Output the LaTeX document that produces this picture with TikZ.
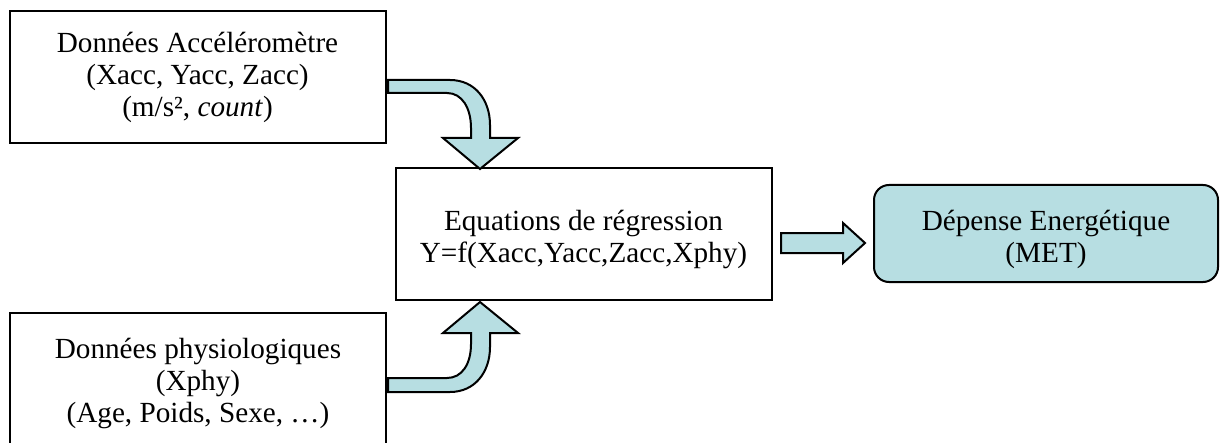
\documentclass[tikz,border=0pt]{standalone}
\usepackage{fontspec}
\setmainfont{Liberation Serif}
\definecolor{flowblue}{RGB}{183,222,226}

\begin{document}
\begin{tikzpicture}[x=0.5pt, y=-0.5pt, box/.style={draw, line width=1pt, align=center, inner sep=0pt, minimum width=188pt, minimum height=66pt, font=\fontsize{14.6}{16}\selectfont}, result/.style={box, fill=flowblue, rounded corners=7.5pt, minimum width=172pt, minimum height=48.5pt}, lastline/.style={text height=#1, text depth=0pt}, bent/.style={draw, line width=1pt, fill=flowblue, line join=miter}]
\clip (0,0) rectangle (1224,443);
\node[box, lastline=40pt] (acc) at (197.5,77) {Données Accéléromètre\\(Xacc, Yacc, Zacc)\\(m/s², \textit{count})};
\node[box, lastline=28pt] (eq) at (583.5,234) {Equations de régression\\Y=f(Xacc,Yacc,Zacc,Xphy)};
\node[box, lastline=43pt] (phy) at (198,379) {Données physiologiques\\(Xphy)\\(Age, Poids, Sexe, …)};
\node[result, lastline=28.5pt] (met) at (1046,233.5) {Dépense Energétique\\(MET)};
% bent arrows into the regression box
\draw[bent] (388,80) -- (450,80) .. controls (475,80) and (490,100) .. (490,125) -- (490,138) -- (518,138) -- (480,169) -- (443,138) -- (471,138) -- (471,128) .. controls (471,108) and (462,93) .. (447,93) -- (388,93) -- cycle;
\draw[bent] (388,392) -- (450,392) .. controls (475,392) and (490,372) .. (490,347) -- (490,333) -- (518,333) -- (480,302) -- (443,333) -- (471,333) -- (471,344) .. controls (471,364) and (462,378) .. (447,378) -- (388,378) -- cycle;
% straight arrow to the result
\draw[bent] (781,233) -- (843,233) -- (843,223) -- (865,243) -- (843,263) -- (843,253) -- (781,253) -- cycle;
\end{tikzpicture}
\end{document}
